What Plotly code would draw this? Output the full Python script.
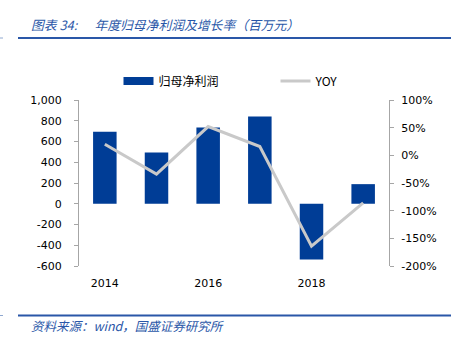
import plotly.graph_objects as go

years = [2014, 2015, 2016, 2017, 2018, 2019]
profit = [695, 495, 736, 842, -538, 189]
yoy = [20, -34, 52, 16, -164, -86]
tick_years = [2014, 2016, 2018]
boundaries = [2014.5, 2015.5, 2016.5, 2017.5, 2018.5]
left_ticks = [-600, -400, -200, 0, 200, 400, 600, 800, 1000]
left_labels = ["-600", "-400", "-200", "0", "200", "400", "600", "800", "1,000"]
right_ticks = [-200, -150, -100, -50, 0, 50, 100]
right_labels = ["-200%", "-150%", "-100%", "-50%", "0%", "50%", "100%"]

BLUE = "#003D96"
GRAY = "#C9C9C9"
AXIS = "#A6A6A6"
TITLE_BLUE = "#2A57A8"
FONT = "DejaVu Sans"
CJK = "Noto Sans CJK SC"

W, H = 459, 344
L, R, T, B = 79, 70, 100, 78

fig = go.Figure()
fig.add_trace(go.Bar(x=years, y=profit, marker=dict(color=BLUE, line=dict(width=0)),
                     width=0.455, showlegend=False, name="归母净利润"))
# legend-only entry drawn as a thick line, like the reference legend swatch
fig.add_trace(go.Scatter(x=[None], y=[None], mode="lines", name="归母净利润",
                         line=dict(color=BLUE, width=8)))
fig.add_trace(go.Scatter(x=years, y=yoy, mode="lines", name="YOY", yaxis="y2",
                         line=dict(color=GRAY, width=3)))

ylo, yhi = -600, 1000
dom_h = (H - T - B) / H
dom0 = B / H
zero_pos = dom0 + dom_h * (0 - ylo) / (yhi - ylo)


def px2x(px):
    return (px - L) / (W - L - R)


def py2y(py):
    return (H - B - py) / (H - T - B)


fig.update_layout(
    width=W, height=H,
    margin=dict(l=L, r=R, t=T, b=B),
    paper_bgcolor="white", plot_bgcolor="white",
    font=dict(family=FONT, size=11, color="#000000"),
    xaxis=dict(range=[2013.5, 2019.5], tickvals=tick_years, ticktext=[str(y) for y in tick_years],
               showline=False, showgrid=False, zeroline=False, ticks="",
               ticklabelstandoff=9, tickfont=dict(size=11)),
    xaxis2=dict(range=[2013.5, 2019.5], overlaying="x", anchor="free", position=zero_pos,
                tickvals=boundaries, showticklabels=False, ticks="inside", ticklen=4,
                tickcolor=AXIS, showline=True, linecolor=AXIS, linewidth=1,
                showgrid=False, zeroline=False),
    yaxis=dict(range=[ylo, yhi], tickvals=left_ticks, ticktext=left_labels, showline=True,
               linecolor=AXIS, ticks="outside", ticklen=4, tickcolor=AXIS, showgrid=False,
               zeroline=False, ticklabelstandoff=10),
    yaxis2=dict(range=[-200, 100], tickvals=right_ticks, ticktext=right_labels, overlaying="y",
                side="right", showline=True, linecolor=AXIS, ticks="outside", ticklen=4,
                tickcolor=AXIS, showgrid=False, zeroline=False, ticklabelstandoff=5),
    legend=dict(orientation="h", x=px2x(118.5), xanchor="left", y=py2y(81), yanchor="middle",
                font=dict(family=CJK, size=12, color="#000000"),
                entrywidth=112, entrywidthmode="pixels", bgcolor="rgba(0,0,0,0)"),
    showlegend=True,
)

fig.add_annotation(xref="paper", yref="paper", x=px2x(29), y=py2y(24),
                   xanchor="left", yanchor="middle", showarrow=False,
                   text="<i>图表 34:      年度归母净利润及增长率（百万元）</i>",
                   font=dict(family=CJK, size=12.8, color=TITLE_BLUE))
fig.add_annotation(xref="paper", yref="paper", x=px2x(29), y=py2y(325),
                   xanchor="left", yanchor="middle", showarrow=False,
                   text="<i>资料来源：wind，国盛证券研究所</i>",
                   font=dict(family=CJK, size=12.5, color=TITLE_BLUE))

for yy in (38, 315.5):
    fig.add_shape(type="line", xref="paper", yref="paper", x0=px2x(18), x1=px2x(451),
                  y0=py2y(yy), y1=py2y(yy), line=dict(color=TITLE_BLUE, width=2))
    fig.add_shape(type="line", xref="paper", yref="paper", x0=px2x(0), x1=px2x(3),
                  y0=py2y(yy), y1=py2y(yy), line=dict(color="#8FA8D0", width=1))

fig.write_html("out.html")
